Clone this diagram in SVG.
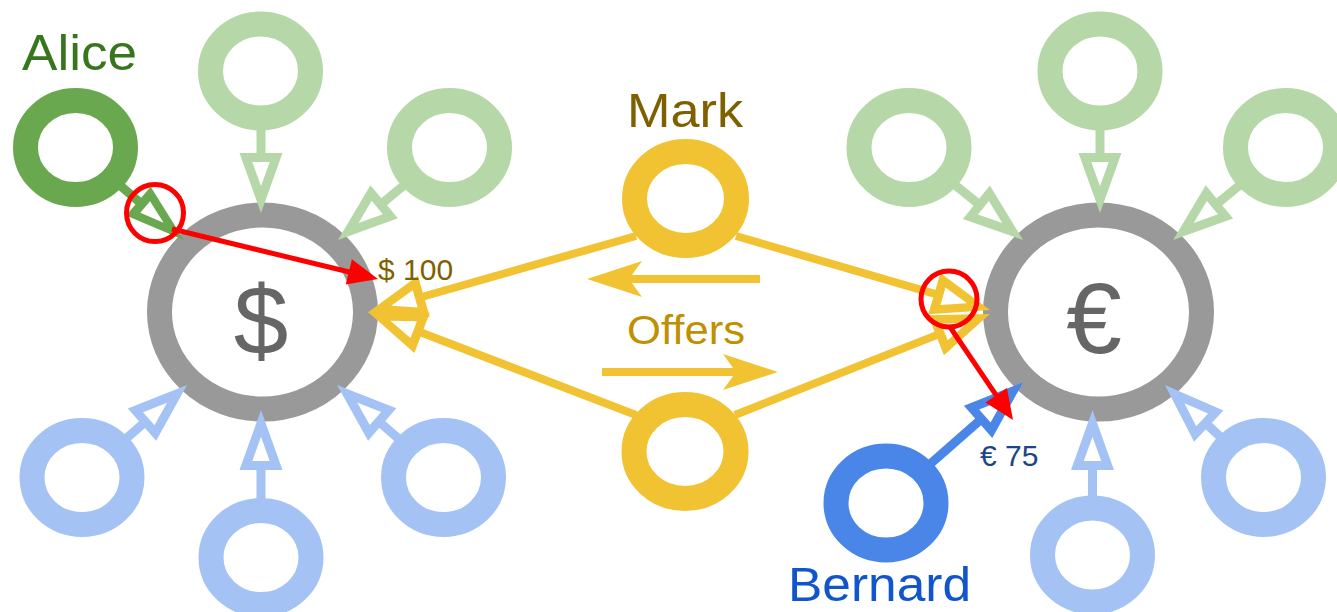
<svg xmlns="http://www.w3.org/2000/svg" width="1337" height="612" viewBox="0 0 1337 612">
<style>
.ring{fill:#fff;stroke-width:25}
.big{fill:#fff;stroke:#999999;stroke-width:25}
.lg{stroke:#b6d7a8}
.gr{stroke:#6aa84f}
.lb{stroke:#a4c2f4}
.bl{stroke:#4a86e8}
.ye{stroke:#f1c232}
.c{fill:none;stroke-width:9}
.cy{fill:none;stroke-width:8}
.red{fill:none;stroke:#ff0000;stroke-width:5}
text{font-family:"Liberation Sans",Arial,sans-serif}
.sym{fill:#666666;text-anchor:middle}
</style>
<defs>
<marker id="m-lg" markerUnits="userSpaceOnUse" viewBox="-64 -26 68 52" markerWidth="68" markerHeight="52" refX="-52" refY="0" orient="auto" overflow="visible"><polygon points="0,0 -60,-21.5 -60,21.5" fill="#b6d7a8"/><polygon points="-26.7,0 -51,-8.7 -51,8.7" fill="#fff"/></marker>
<marker id="m-gr" markerUnits="userSpaceOnUse" viewBox="-64 -26 68 52" markerWidth="68" markerHeight="52" refX="-52" refY="0" orient="auto" overflow="visible"><polygon points="0,0 -60,-19 -60,19" fill="#6aa84f"/><polygon points="-26.7,0 -51,-7.5 -51,7.5" fill="#fff"/></marker>
<marker id="m-lb" markerUnits="userSpaceOnUse" viewBox="-64 -26 68 52" markerWidth="68" markerHeight="52" refX="-52" refY="0" orient="auto" overflow="visible"><polygon points="0,0 -60,-21.5 -60,21.5" fill="#a4c2f4"/><polygon points="-26.7,0 -51,-8.7 -51,8.7" fill="#fff"/></marker>
<marker id="m-bl" markerUnits="userSpaceOnUse" viewBox="-64 -26 68 52" markerWidth="68" markerHeight="52" refX="-52" refY="0" orient="auto" overflow="visible"><polygon points="0,0 -60,-21.5 -60,21.5" fill="#4a86e8"/><polygon points="-26.7,0 -51,-8.7 -51,8.7" fill="#fff"/></marker>
<marker id="m-ye" markerUnits="userSpaceOnUse" viewBox="-64 -26 68 52" markerWidth="68" markerHeight="52" refX="-52" refY="0" orient="auto" overflow="visible"><polygon points="0,0 -58,-21.5 -58,21.5" fill="#f1c232"/><polygon points="-24,0 -49,-9 -49,9" fill="#fff"/></marker>
<marker id="m-of" markerUnits="userSpaceOnUse" viewBox="-60 -24 64 48" markerWidth="64" markerHeight="48" refX="-40" refY="0" orient="auto" overflow="visible"><path d="M0,0 L-55,-18 L-42,0 L-55,18 Z" fill="#f1c232"/></marker>
<marker id="m-red" markerUnits="userSpaceOnUse" viewBox="-32 -16 36 32" markerWidth="36" markerHeight="32" refX="-22" refY="0" orient="auto" overflow="visible"><path d="M0,0 L-30,-13 L-30,13 Z" fill="#ff0000"/></marker>
</defs>

<g id="nodes">
<g id="node-dollar"><ellipse class="big" cx="262.5" cy="312" rx="103" ry="97"/><text class="sym" x="261" y="354" font-size="98">$</text></g>
<g id="node-euro"><ellipse class="big" cx="1098.5" cy="312" rx="103" ry="97"/><text class="sym" x="1094" y="353" font-size="100">€</text></g>
<g id="node-alice"><ellipse class="ring gr" cx="75.5" cy="147.5" rx="50" ry="47"/><text x="22" y="70" font-size="50" fill="#38761d" textLength="115" lengthAdjust="spacingAndGlyphs">Alice</text></g>
<g id="node-g1"><ellipse class="ring lg" cx="260.5" cy="71" rx="50" ry="47"/></g>
<g id="node-g2"><ellipse class="ring lg" cx="449.5" cy="147.5" rx="50" ry="47"/></g>
<g id="node-b1"><ellipse class="ring lb" cx="82" cy="477.5" rx="50" ry="47"/></g>
<g id="node-b2"><ellipse class="ring lb" cx="261" cy="557.5" rx="50" ry="47"/></g>
<g id="node-b3"><ellipse class="ring lb" cx="443.5" cy="477.5" rx="50" ry="47"/></g>
<g id="node-g3"><ellipse class="ring lg" cx="909" cy="147.5" rx="50" ry="47"/></g>
<g id="node-g4"><ellipse class="ring lg" cx="1100" cy="71" rx="50" ry="47"/></g>
<g id="node-g5"><ellipse class="ring lg" cx="1285.5" cy="147.5" rx="50" ry="47"/></g>
<g id="node-bernard"><ellipse class="ring bl" cx="886" cy="503" rx="50" ry="47"/><text x="788" y="601" font-size="48" fill="#1155cc" textLength="183" lengthAdjust="spacingAndGlyphs">Bernard</text></g>
<g id="node-b4"><ellipse class="ring lb" cx="1092.5" cy="555" rx="50" ry="47"/></g>
<g id="node-b5"><ellipse class="ring lb" cx="1263.5" cy="477.5" rx="50" ry="47"/></g>
<g id="node-mark"><ellipse class="ring ye" cx="685.5" cy="198.5" rx="51" ry="47"/><text x="627" y="127" font-size="49" fill="#7f6000" textLength="116" lengthAdjust="spacingAndGlyphs">Mark</text></g>
<g id="node-mark2"><ellipse class="ring ye" cx="685" cy="451.5" rx="51" ry="47"/></g>
</g>

<g id="connectors">
<line class="c gr" x1="117.4" y1="183.2" x2="144.4" y2="206.3" marker-end="url(#m-gr)"/>
<line class="c lg" x1="261" y1="126" x2="261" y2="161" marker-end="url(#m-lg)"/>
<line class="c lg" x1="407.2" y1="182.6" x2="378" y2="206.8" marker-end="url(#m-lg)"/>
<line class="c lb" x1="123.3" y1="441.1" x2="148" y2="419.4" marker-end="url(#m-lb)"/>
<line class="c lb" x1="261" y1="502.5" x2="261" y2="462" marker-end="url(#m-lb)"/>
<line class="c lb" x1="401.6" y1="441.4" x2="376.2" y2="419.2" marker-end="url(#m-lb)"/>
<line class="c lg" x1="951.7" y1="182.2" x2="982.6" y2="207.2" marker-end="url(#m-lg)"/>
<line class="c lg" x1="1100" y1="126" x2="1100" y2="161" marker-end="url(#m-lg)"/>
<line class="c lg" x1="1243" y1="182.4" x2="1213.2" y2="207" marker-end="url(#m-lg)"/>
<line class="c bl" x1="927.2" y1="466.6" x2="984.1" y2="416.6" marker-end="url(#m-bl)"/>
<line class="c lb" x1="1092.5" y1="500" x2="1092.5" y2="462" marker-end="url(#m-lb)"/>
<line class="c lb" x1="1223.4" y1="439.8" x2="1202.9" y2="420.6" marker-end="url(#m-lb)"/>
<line class="cy ye" x1="636" y1="236" x2="418.1" y2="298" marker-end="url(#m-ye)"/>
<line class="cy ye" x1="636" y1="415" x2="416.5" y2="330.7" marker-end="url(#m-ye)"/>
<line class="cy ye" x1="736" y1="236" x2="940.1" y2="295.4" marker-end="url(#m-ye)"/>
<line class="cy ye" x1="735" y1="415" x2="941.6" y2="333.1" marker-end="url(#m-ye)"/>
<line class="cy ye" x1="760" y1="279" x2="627" y2="279" marker-end="url(#m-of)"/>
<line class="cy ye" x1="602" y1="372" x2="738" y2="372" marker-end="url(#m-of)"/>
<text x="627" y="344" font-size="41" fill="#bf9000" textLength="118" lengthAdjust="spacingAndGlyphs">Offers</text>
</g>

<g id="highlights">
<circle class="red" cx="155" cy="213" r="28.5"/>
<line class="red" x1="172" y1="229" x2="356.6" y2="273.8" marker-end="url(#m-red)"/>
<text x="378" y="280" font-size="30" fill="#7f6000">$ 100</text>
<circle class="red" cx="949" cy="299" r="28"/>
<line class="red" x1="950" y1="327" x2="1000.7" y2="401.8" marker-end="url(#m-red)"/>
<text x="980" y="466" font-size="30" fill="#1c4587">€ 75</text>
</g>
</svg>
